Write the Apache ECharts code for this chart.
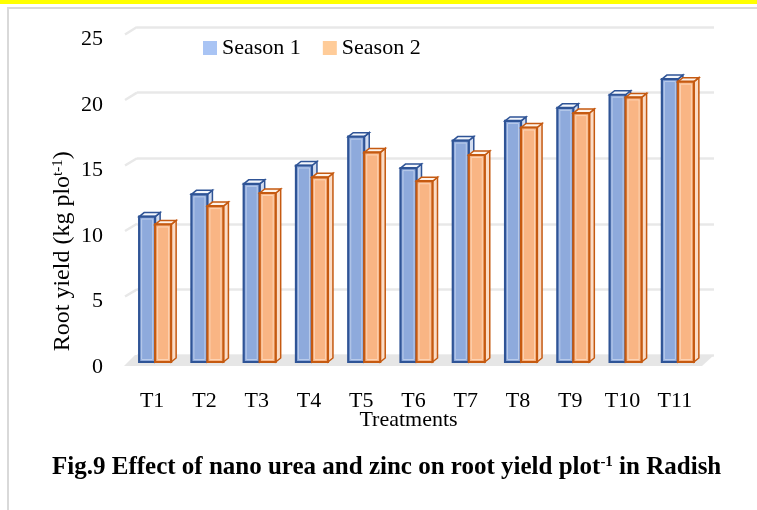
<!DOCTYPE html>
<html>
<head>
<meta charset="utf-8">
<script src="https://cdn.jsdelivr.net/npm/echarts@6/dist/echarts.min.js"></script>
<style>
html, body { margin: 0; padding: 0; background: #fff; }
#main { width: 757px; height: 510px; }
</style>
</head>
<body>
<div id="main"></div>
<script>
var categories = ['T1', 'T2', 'T3', 'T4', 'T5', 'T6', 'T7', 'T8', 'T9', 'T10', 'T11'];
var season1 = [11.1, 12.8, 13.6, 15.0, 17.2, 14.8, 16.9, 18.4, 19.4, 20.4, 21.6];
var season2 = [10.5, 11.9, 12.9, 14.1, 16.0, 13.8, 15.8, 17.9, 19.0, 20.2, 21.4];
var yTicks = [0, 5, 10, 15, 20, 25];

var serif = '"Liberation Serif", "Times New Roman", serif';

// front plane (bars, labels) and back wall (gridlines)
var front = { left: 129, right: 53, top: 34.5, bottom: 148 };
var back = { left: 137, right: 43, top: 27, bottom: 155 };

// draw one 3D-looking column; side 0 = left of category center, 1 = right
function bar3D(side, c) {
    return function (params, api) {
        var idx = api.value(0);
        var top = api.coord([idx, api.value(1)]);
        var base = api.coord([idx, 0]);
        var w = 16, dx = 5, dy = -4;
        var x0 = side === 0 ? top[0] - w : top[0];
        var yT = top[1], yB = base[1];
        return {
            type: 'group',
            children: [
                { type: 'polygon', shape: { points: [[x0 + w, yT], [x0 + w + dx, yT + dy], [x0 + w + dx, yB + dy], [x0 + w, yB]] },
                  style: { fill: c.side, stroke: c.border, lineWidth: 1.5 } },
                { type: 'polygon', shape: { points: [[x0, yT], [x0 + dx, yT + dy], [x0 + w + dx, yT + dy], [x0 + w, yT]] },
                  style: { fill: c.top, stroke: c.border, lineWidth: 1.5 } },
                { type: 'rect', shape: { x: x0, y: yT, width: w, height: yB - yT },
                  style: { fill: c.face, stroke: c.border, lineWidth: 2.2 } },
                { type: 'rect', shape: { x: x0 + 2.5, y: yT + 2.5, width: w - 5, height: yB - yT - 5 },
                  style: { fill: 'none', stroke: c.inner, lineWidth: 1 } }
            ]
        };
    };
}

var blue = { face: '#8eaadc', border: '#2f5496', inner: '#b9cbea', top: '#f4f7fc', side: '#d3ddf0' };
var orange = { face: '#f9b584', border: '#c55a11', inner: '#fcd3b4', top: '#fdf3ea', side: '#fbdcc6' };

var myChart = echarts.init(document.getElementById('main'));

option = {
    animation: false,
    backgroundColor: '#fff',
    title: {
        text: '{b|Fig.9 Effect of nano urea and zinc on root yield plot}{s|-1}{b| in Radish}',
        left: 52,
        top: 455,
        padding: 0,
        textStyle: {
            rich: {
                b: { fontFamily: serif, fontSize: 25, fontWeight: 'bold', color: '#000' },
                s: { fontFamily: serif, fontSize: 15, fontWeight: 'bold', color: '#000', verticalAlign: 'top' }
            }
        }
    },
    legend: {
        left: 198,
        top: 32,
        icon: 'rect',
        itemWidth: 14,
        itemHeight: 14,
        itemGap: 22,
        textStyle: { fontFamily: serif, fontSize: 22, color: '#000' },
        data: ['Season 1', 'Season 2']
    },
    grid: [
        { left: back.left, right: back.right, top: back.top, bottom: back.bottom },
        { left: front.left, right: front.right, top: front.top, bottom: front.bottom }
    ],
    xAxis: [
        { gridIndex: 0, type: 'category', data: categories, show: false },
        {
            gridIndex: 1,
            type: 'category',
            data: categories,
            axisLine: { show: false },
            axisTick: { show: false },
            axisLabel: { fontFamily: serif, fontSize: 22, color: '#000', margin: 28, padding: [0, 6, 0, 0] },
            name: 'Treatments',
            nameLocation: 'middle',
            nameGap: 47,
            nameMoveOverlap: false,
            nameTextStyle: { fontFamily: serif, fontSize: 22, color: '#000', padding: [0, 16, 0, 0] }
        }
    ],
    yAxis: [
        {
            gridIndex: 0, type: 'value', min: 0, max: 25, interval: 5,
            axisLabel: { show: false }, axisLine: { show: false }, axisTick: { show: false },
            splitLine: { lineStyle: { color: '#e8e8e8', width: 2.5 } }
        },
        {
            gridIndex: 1, type: 'value', min: 0, max: 25, interval: 5,
            splitLine: { show: false },
            axisLine: { show: false },
            axisTick: { show: false },
            axisLabel: { fontFamily: serif, fontSize: 22, color: '#000', margin: 26, verticalAlign: 'top', lineHeight: 10 },
            name: '{a|Root yield (kg plo}{s|t-1}{a|)}',
            nameLocation: 'middle',
            nameGap: 54,
            nameMoveOverlap: false,
            nameTextStyle: {
                padding: [0, 106, 0, 0],
                rich: {
                    a: { fontFamily: serif, fontSize: 24, color: '#000' },
                    s: { fontFamily: serif, fontSize: 15, color: '#000', verticalAlign: 'top' }
                }
            }
        }
    ],
    graphic: [],
    series: [
        {
            name: 'Season 1',
            type: 'custom',
            xAxisIndex: 1,
            yAxisIndex: 1,
            itemStyle: { color: '#a9c4f4', borderColor: '#8eaee6' },
            renderItem: bar3D(0, blue),
            data: season1.map(function (v, i) { return [i, v]; }),
            z: 3
        },
        {
            name: 'Season 2',
            type: 'custom',
            xAxisIndex: 1,
            yAxisIndex: 1,
            itemStyle: { color: '#ffcc99', borderColor: '#f6b886' },
            renderItem: bar3D(1, orange),
            data: season2.map(function (v, i) { return [i, v]; }),
            z: 4
        }
    ]
};

myChart.setOption(option);

// floor, left gridline stubs, page frame and top strip
var yf0 = myChart.convertToPixel({ yAxisIndex: 1 }, 0);
var yb0 = myChart.convertToPixel({ yAxisIndex: 0 }, 0);
var fx0 = front.left - 5, fx1 = 757 - front.right - 2;
var bx0 = back.left - 2, bx1 = 757 - back.right - 2;
var deco = [
    { type: 'rect', shape: { x: 0, y: 0, width: 757, height: 4 }, style: { fill: '#ffff00' }, z: 0 },
    { type: 'rect', shape: { x: 8, y: 8, width: 760, height: 520 }, style: { fill: 'none', stroke: '#d9d9d9', lineWidth: 2 }, z: 0 },
    { type: 'polygon', shape: { points: [[fx0, yf0 + 4], [fx1, yf0 + 4], [bx1 + 2, yb0], [bx0, yb0]] },
      style: { fill: '#e6e6e6' }, z: 1 }
];
yTicks.forEach(function (v) {
    if (v === 0) return;
    var yf = myChart.convertToPixel({ yAxisIndex: 1 }, v);
    var yb = myChart.convertToPixel({ yAxisIndex: 0 }, v);
    deco.push({ type: 'line', shape: { x1: front.left - 4, y1: yf, x2: back.left, y2: yb },
                style: { stroke: '#e8e8e8', lineWidth: 2.5 }, z: 1 });
});
myChart.setOption({ graphic: deco });
</script>
</body>
</html>
